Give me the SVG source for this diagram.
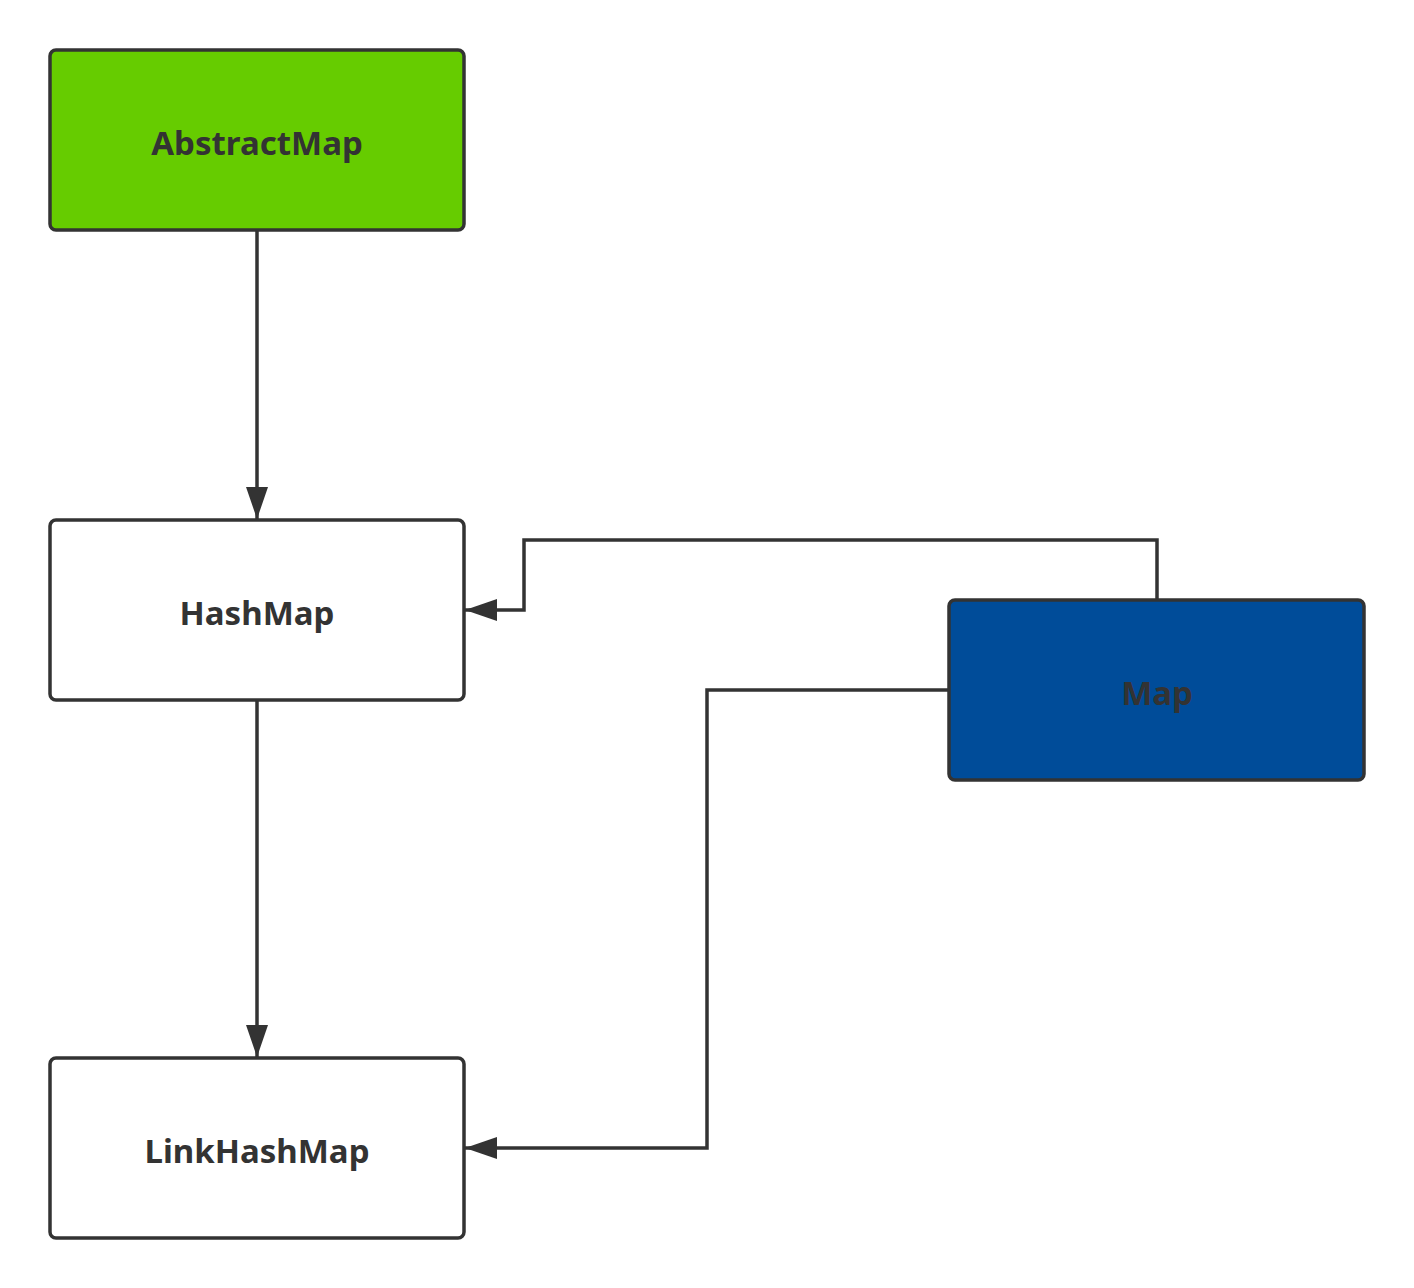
<svg xmlns="http://www.w3.org/2000/svg" width="1414" height="1288" viewBox="0 0 1414 1288">
<style>
.box{stroke:#333333;stroke-width:3.5;}
.lbl{font-family:"Noto Sans","Open Sans","Liberation Sans",sans-serif;font-weight:bold;font-size:33px;fill:#333333;text-anchor:middle;}
.conn{fill:none;stroke:#333333;stroke-width:3.5;}
</style>
<defs>
<marker id="arr" markerUnits="userSpaceOnUse" markerWidth="34" markerHeight="24" refX="32" refY="11" orient="auto">
<path d="M0,0 L32,11 L0,22 Z" fill="#333333"/>
</marker>
</defs>
<rect width="1414" height="1288" fill="#ffffff"/>
<g id="connectors">
<path class="conn" d="M257,230 L257,519" marker-end="url(#arr)"/>
<path class="conn" d="M257,700 L257,1057" marker-end="url(#arr)"/>
<path class="conn" d="M1157,600 L1157,540 L524,540 L524,610 L465,610" marker-end="url(#arr)"/>
<path class="conn" d="M949,690 L707,690 L707,1148 L465,1148" marker-end="url(#arr)"/>
</g>
<g id="AbstractMap">
<rect class="box" x="50" y="50" width="414" height="180" rx="6" fill="#66CC00"/>
<text class="lbl" x="257" y="155">AbstractMap</text>
</g>
<g id="HashMap">
<rect class="box" x="50" y="520" width="414" height="180" rx="6" fill="#ffffff"/>
<text class="lbl" x="257" y="625">HashMap</text>
</g>
<g id="LinkHashMap">
<rect class="box" x="50" y="1058" width="414" height="180" rx="6" fill="#ffffff"/>
<text class="lbl" x="257" y="1163">LinkHashMap</text>
</g>
<g id="Map">
<rect class="box" x="949" y="600" width="415" height="180" rx="6" fill="#004C99"/>
<text class="lbl" x="1157" y="705">Map</text>
</g>
</svg>
